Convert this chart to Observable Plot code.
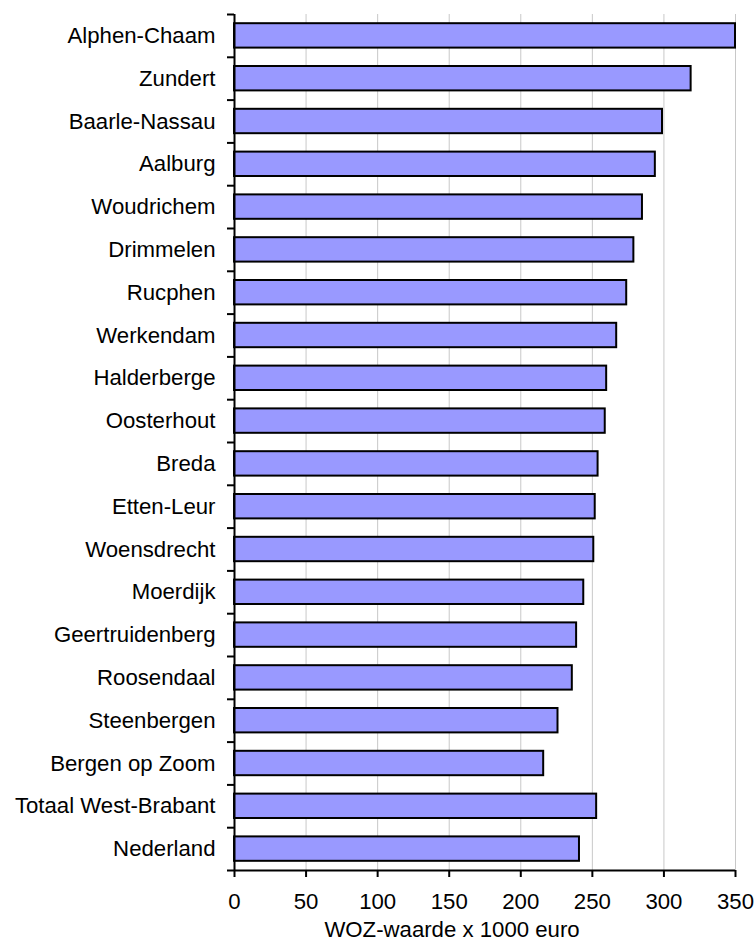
<!DOCTYPE html>
<html>
<head>
<meta charset="utf-8">
<script src="https://cdn.jsdelivr.net/npm/d3@7"></script>
<script src="https://cdn.jsdelivr.net/npm/@observablehq/plot@0.6"></script>
<style>
  html, body { margin: 0; padding: 0; background: #fff; }
</style>
</head>
<body>
<div id="chart"></div>
<script>
const categories = [
  "Alphen-Chaam", "Zundert", "Baarle-Nassau", "Aalburg", "Woudrichem",
  "Drimmelen", "Rucphen", "Werkendam", "Halderberge", "Oosterhout",
  "Breda", "Etten-Leur", "Woensdrecht", "Moerdijk", "Geertruidenberg",
  "Roosendaal", "Steenbergen", "Bergen op Zoom", "Totaal West-Brabant", "Nederland"
];
const values = [350, 319, 299, 294, 285, 279, 274, 267, 260, 259,
                254, 252, 251, 244, 239, 236, 226, 216, 253, 241];
const xTicks = [0, 50, 100, 150, 200, 250, 300, 350];
const xLabel = "WOZ-waarde x 1000 euro";

const data = categories.map((name, i) => ({name, value: values[i], index: i}));
const inset = 0.215;
const FS = 22.2;

const chart = Plot.plot({
  width: 755,
  height: 945,
  marginLeft: 234,
  marginRight: 20,
  marginTop: 14,
  marginBottom: 75,
  style: {fontFamily: "'Liberation Sans', Arial, sans-serif", fontSize: FS + "px", color: "#000", background: "#fff"},
  x: {domain: [0, 350]},
  y: {domain: [0, categories.length], reverse: true},
  marks: [
    Plot.gridX(xTicks, {stroke: "#c8c8c8", strokeOpacity: 1, strokeWidth: 1}),
    Plot.rectX(data, {
      x1: 0, x2: "value",
      y1: d => d.index + inset, y2: d => d.index + 1 - inset,
      fill: "#9999ff", stroke: "#000", strokeWidth: 2
    }),
    Plot.axisX({ticks: xTicks, tickSize: 7, strokeWidth: 2, tickPadding: 16, fontSize: FS, label: null}),
    Plot.text([xLabel], {frameAnchor: "bottom", dy: 66, dx: -33, fontSize: FS, fill: "#000"}),
    Plot.axisY({ticks: d3.range(0, categories.length + 1), tickFormat: () => "", tickSize: 7, strokeWidth: 2, label: null}),
    Plot.axisY({ticks: categories.map((d, i) => i + 0.5), tickFormat: v => categories[Math.floor(v)], tickSize: 0, tickPadding: 19, fontSize: FS, label: null}),
    Plot.ruleX([0], {stroke: "#000", strokeWidth: 2}),
    Plot.ruleY([categories.length], {stroke: "#000", strokeWidth: 2})
  ]
});
document.getElementById("chart").appendChild(chart);
</script>
</body>
</html>
